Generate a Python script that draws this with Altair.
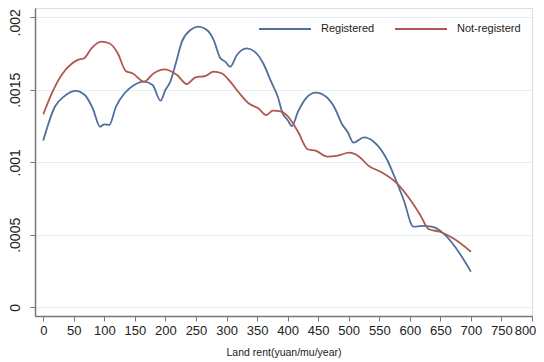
import altair as alt
import pandas as pd

reg_x = [0, 19, 35, 53, 68, 81, 93, 100, 108, 119, 133, 149, 165, 179, 192, 200, 208, 217, 227, 241,
         254, 268, 279, 290, 298, 306, 317, 333, 346, 360, 373, 384, 392, 400, 407, 417, 430, 446,
         463, 476, 490, 498, 508, 525, 541, 563, 576, 590, 606, 620, 636, 655, 674, 700]
reg_y = [1.150, 1.383, 1.457, 1.492, 1.464, 1.372, 1.245, 1.262, 1.257, 1.383, 1.476, 1.533, 1.556,
         1.533, 1.425, 1.499, 1.556, 1.683, 1.832, 1.912, 1.935, 1.912, 1.843, 1.717, 1.694, 1.659,
         1.740, 1.786, 1.763, 1.683, 1.556, 1.450, 1.335, 1.292, 1.250, 1.349, 1.441, 1.480, 1.452,
         1.383, 1.257, 1.211, 1.135, 1.172, 1.142, 1.016, 0.890, 0.740, 0.556, 0.561, 0.556, 0.510,
         0.418, 0.246]

not_x = [0, 14, 30, 46, 57, 67, 79, 95, 108, 122, 135, 146, 165, 181, 198, 219, 235, 249, 265, 279,
         292, 306, 319, 336, 352, 365, 376, 390, 401, 417, 433, 446, 465, 482, 501, 517, 533, 552,
         579, 601, 617, 631, 649, 671, 700]
not_y = [1.331, 1.476, 1.602, 1.678, 1.706, 1.717, 1.786, 1.832, 1.821, 1.752, 1.630, 1.614, 1.556,
         1.614, 1.641, 1.602, 1.540, 1.586, 1.595, 1.625, 1.614, 1.556, 1.487, 1.407, 1.372, 1.326,
         1.356, 1.349, 1.314, 1.211, 1.090, 1.080, 1.039, 1.046, 1.066, 1.039, 0.974, 0.935, 0.855,
         0.740, 0.637, 0.538, 0.521, 0.476, 0.383]

series = ["Registered", "Not-registerd"]
colors = ["#4f709c", "#b0574f"]
x_ticks = list(range(0, 801, 50))
y_ticks = [0, 0.0005, 0.001, 0.0015, 0.002]

rows = []
for xs, ys, name in [(reg_x, reg_y, series[0]), (not_x, not_y, series[1])]:
    for i, (a, b) in enumerate(zip(xs, ys)):
        rows.append({"rent": a, "density": b / 1000.0, "group": name, "order": i})
df = pd.DataFrame(rows)

font = "Liberation Sans"

chart = alt.Chart(df).mark_line(strokeWidth=1.8, interpolate="monotone").encode(
    x=alt.X("rent:Q",
            scale=alt.Scale(domain=[-13.5, 800], nice=False, zero=False),
            axis=alt.Axis(values=x_ticks, title="Land rent(yuan/mu/year)", grid=False,
                          labelFontSize=13, labelColor="#222", labelFont=font,
                          titleFont=font, titleFontSize=10.5, titleFontWeight="normal",
                          titleColor="#222", titlePadding=10, labelOverlap=False,
                          labelOffset={"condition": {"test": "datum.value >= 800", "value": -7},
                                       "value": 0},
                          domainColor="#777", domainWidth=1.5, tickColor="#777",
                          tickSize=5, labelPadding=3, labelFlush=False)),
    y=alt.Y("density:Q",
            scale=alt.Scale(domain=[-0.00006, 0.002064], nice=False, zero=False),
            axis=alt.Axis(values=y_ticks, title=None, grid=True, gridColor="#e6eef1",
                          gridWidth=1.2, labelOverlap=False,
                          labelExpr="datum.value == 0 ? '0' : substring(format(datum.value, '.4~f'), 1)",
                          labelAngle=-90, labelFontSize=14, labelColor="#222", labelFont=font,
                          labelAlign="center", labelBaseline="bottom", labelPadding=8,
                          labelOffset={"condition": {"test": "datum.value >= 0.002", "value": 5},
                                       "value": 0},
                          domainColor="#777", domainWidth=1.5, tickColor="#777", tickSize=5)),
    color=alt.Color("group:N",
                    scale=alt.Scale(domain=series, range=colors),
                    legend=alt.Legend(title=None, orient="none", legendX=223, legendY=-6,
                                      direction="horizontal", symbolType="stroke",
                                      symbolSize=2704, symbolStrokeWidth=1.8,
                                      labelFontSize=11, labelFont=font, labelColor="#222",
                                      labelOffset=9, columnPadding=16, padding=0)),
    order="order:Q",
).properties(
    width=497,
    height=308,
    autosize=alt.AutoSizeParams(type="none"),
    padding={"left": 27, "top": 0, "right": 4, "bottom": 46},
).configure_view(stroke=None).configure(background="white")

chart.save("out.html", embed_options={"renderer": "svg", "actions": False})
